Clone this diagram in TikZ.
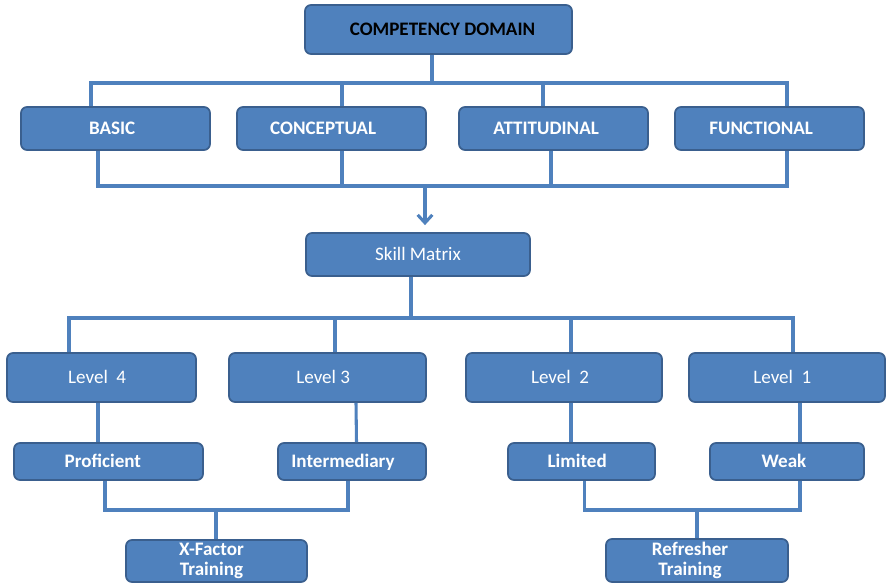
\documentclass[tikz,border=0pt]{standalone}
\usepackage{fontspec}
\setmainfont{Carlito}
\usetikzlibrary{arrows.meta,calc}
\definecolor{boxfill}{HTML}{4F81BD}
\definecolor{boxline}{HTML}{3A5F8E}
\definecolor{wirecol}{HTML}{4F81BD}
\tikzset{
  box/.style={draw=boxline, line width=1.3pt, fill=boxfill, rounded corners=4.5pt,
    inner sep=0pt, font=\fontsize{14.3}{15.8}\selectfont, text=white, align=center},
  boldbox/.style={box, font=\fontsize{14.3}{15.8}\selectfont\bfseries},
  % single-line labels: capitals centred in the box whatever the descenders
  oneline/.style={text height=10pt, text depth=0.8pt},
  % nudge the label left (trailing space) or right (leading space)
  nudgeleft/.style={execute at end node={\hspace*{#1}}},
  nudgeright/.style={execute at begin node={\hspace*{#1}}},
  wire/.style={draw=wirecol, line width=2.3pt},
}
\begin{document}
\begin{tikzpicture}[x=0.75pt,y=-0.75pt]
\useasboundingbox (0,0) rectangle (886,584);

% top level
\node[boldbox, oneline, text=black, nudgeright=6pt, minimum width=267*0.75pt, minimum height=49*0.75pt] (top) at (438.5,29.5) {COMPETENCY DOMAIN};

% competency categories
\node[boldbox, oneline, nudgeleft=5pt, minimum width=189*0.75pt, minimum height=43*0.75pt] (basic) at (115.5,128.5) {BASIC};
\node[boldbox, oneline, nudgeleft=12.5pt, minimum width=189*0.75pt, minimum height=43*0.75pt] (concept) at (331.5,128.5) {CONCEPTUAL};
\node[boldbox, oneline, nudgeleft=11pt, minimum width=189*0.75pt, minimum height=43*0.75pt] (attit) at (553.5,128.5) {ATTITUDINAL};
\node[boldbox, oneline, nudgeleft=12.5pt, minimum width=189*0.75pt, minimum height=43*0.75pt] (func) at (769.5,128.5) {FUNCTIONAL};

% skill matrix
\node[box, oneline, minimum width=224*0.75pt, minimum height=43*0.75pt] (skill) at (418,254.5) {Skill Matrix};

% levels
\node[box, oneline, nudgeleft=6.5pt, minimum width=189*0.75pt, minimum height=49*0.75pt] (l4) at (101.5,377.5) {Level\ \ 4};
\node[box, oneline, nudgeleft=6.5pt, minimum width=197*0.75pt, minimum height=49*0.75pt] (l3) at (327.5,377.5) {Level 3};
\node[box, oneline, nudgeleft=6pt, minimum width=196*0.75pt, minimum height=49*0.75pt] (l2) at (564,377.5) {Level\ \ 2};
\node[box, oneline, nudgeleft=7pt, minimum width=196*0.75pt, minimum height=49*0.75pt] (l1) at (787,377.5) {Level\ \ 1};

% ratings
\node[boldbox, oneline, nudgeleft=8.5pt, minimum width=189*0.75pt, minimum height=37*0.75pt] (prof) at (108.5,461.5) {Proficient};
\node[boldbox, oneline, nudgeleft=13.5pt, minimum width=148*0.75pt, minimum height=37*0.75pt] (inter) at (352,461.5) {Intermediary};
\node[boldbox, oneline, nudgeleft=6.5pt, minimum width=147*0.75pt, minimum height=37*0.75pt] (lim) at (581.5,461.5) {Limited};
\node[boldbox, oneline, nudgeleft=4.5pt, minimum width=154*0.75pt, minimum height=37*0.75pt] (weak) at (787,461.5) {Weak};

% trainings
\node[boldbox, minimum width=181*0.75pt, minimum height=42*0.75pt] (xf) at (216.5,561)
  {X-Factor\hspace*{7.5pt}\\[-1pt]Training\hspace*{7.5pt}};
\node[boldbox, minimum width=182*0.75pt, minimum height=43*0.75pt] (ref) at (697,560.5)
  {Refresher\hspace*{10.5pt}\\[-1pt]Training\hspace*{10.5pt}};

% bus heights
\coordinate (busA) at (0,83);
\coordinate (busB) at (0,186);
\coordinate (busC) at (0,318);
\coordinate (busD) at (0,510);

% top to categories
\draw[wire] ($(top.south)+(-6.5,0)$) -- ($(top.south |- busA)+(-6.5,0)$);
\draw[wire] ($(basic.north)+(-24.5,0)$) -- ($(basic.north |- busA)+(-24.5,0)$)
  -- ($(func.north |- busA)+(17.5,0)$) -- ($(func.north)+(17.5,0)$);
\draw[wire] ($(concept.north |- busA)+(10.5,0)$) -- ($(concept.north)+(10.5,0)$);
\draw[wire] ($(attit.north |- busA)+(-10.5,0)$) -- ($(attit.north)+(-10.5,0)$);

% categories merge into the skill matrix
\draw[wire] ($(basic.south)+(-17.5,0)$) -- ($(basic.south |- busB)+(-17.5,0)$)
  -- ($(func.south |- busB)+(17.5,0)$) -- ($(func.south)+(17.5,0)$);
\draw[wire] ($(concept.south)+(10.5,0)$) -- ($(concept.south |- busB)+(10.5,0)$);
\draw[wire] ($(attit.south)+(-2.5,0)$) -- ($(attit.south |- busB)+(-2.5,0)$);
\draw[wire, -{Straight Barb[length=6pt, width=11pt, line width=2.3pt]}]
  ($(skill.north |- busB)+(7,0)$) -- ($(skill.north)+(7,-7)$);

% skill matrix to levels
\draw[wire] ($(skill.south)+(-7,0)$) -- ($(skill.south |- busC)+(-7,0)$);
\draw[wire] ($(l4.north)+(-32.5,0)$) -- ($(l4.north |- busC)+(-32.5,0)$)
  -- ($(l1.north |- busC)+(6,0)$) -- ($(l1.north)+(6,0)$);
\draw[wire] ($(l3.north |- busC)+(7.5,0)$) -- ($(l3.north)+(7.5,0)$);
\draw[wire] ($(l2.north |- busC)+(7,0)$) -- ($(l2.north)+(7,0)$);

% levels to ratings
\draw[wire] ($(l4.south)+(-3.5,0)$) -- ($(prof.north)+(-10.5,0)$);
\draw[wire] ($(l3.south)+(28.5,0)$) -- ($(inter.north)+(4.5,0)$);
\draw[wire] ($(l2.south)+(7,0)$) -- ($(lim.north)+(-10.5,0)$);
\draw[wire] ($(l1.south)+(13,0)$) -- ($(weak.north)+(13,0)$);

% ratings to trainings
\draw[wire] ($(prof.south)+(-3.5,0)$) -- ($(prof.south |- busD)+(-3.5,0)$)
  -- ($(inter.south |- busD)+(-4,0)$) -- ($(inter.south)+(-4,0)$);
\draw[wire] ($(xf.north |- busD)+(-0.5,0)$) -- ($(xf.north)+(-0.5,0)$);
\draw[wire] ($(lim.south)+(3,0)$) -- ($(lim.south |- busD)+(3,0)$)
  -- ($(weak.south |- busD)+(13,0)$) -- ($(weak.south)+(13,0)$);
\draw[wire] (ref.north |- busD) -- (ref.north);
\end{tikzpicture}
\end{document}
